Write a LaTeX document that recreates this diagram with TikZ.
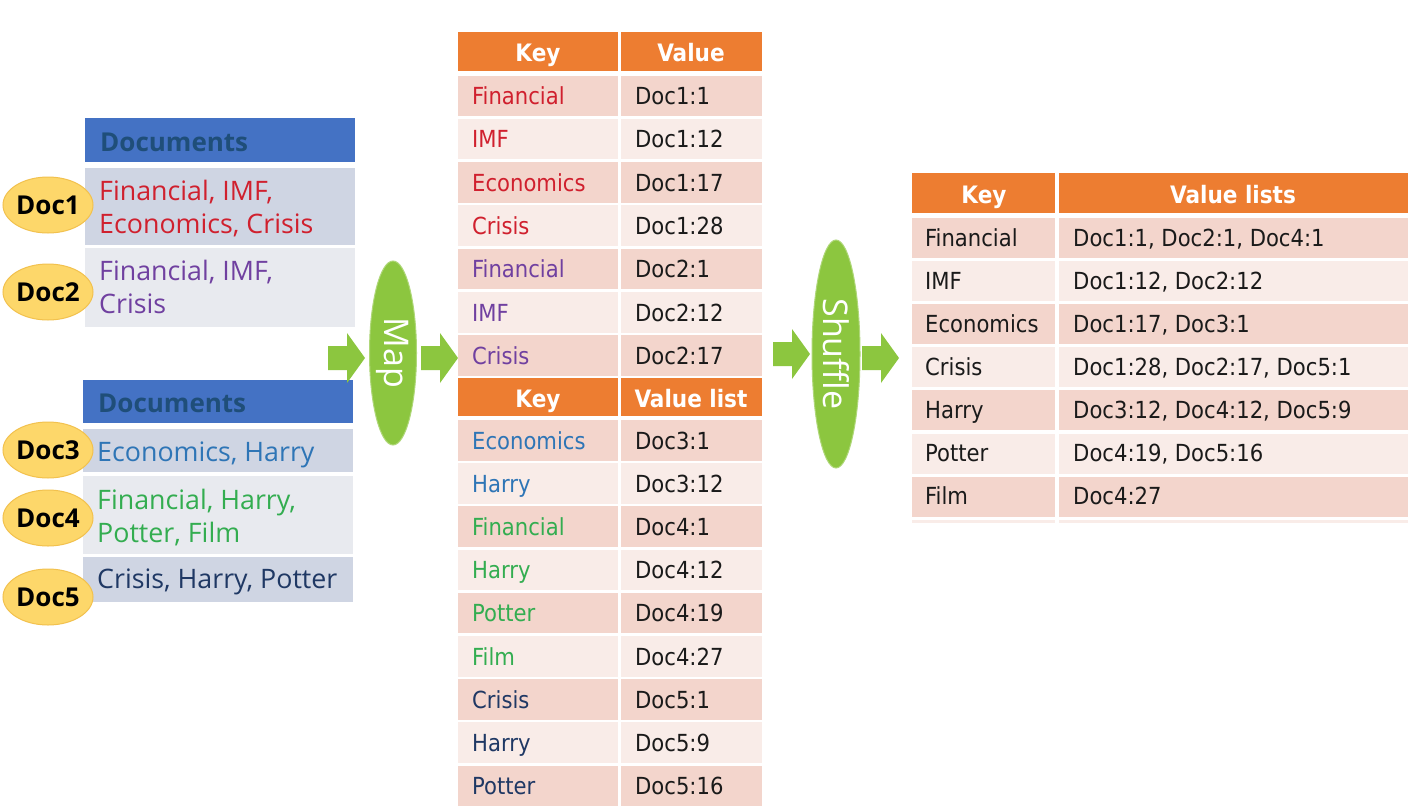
\documentclass[tikz,border=0pt]{standalone}
\usepackage{fontspec}
\usetikzlibrary{shapes.geometric}
\IfFontExistsTF{DejaVu Sans Condensed}{\newfontfamily\tabfont{DejaVu Sans Condensed}}{\newfontfamily\tabfont[FakeStretch=0.88]{DejaVu Sans}}
\newfontfamily\docfont{Open Sans}
\definecolor{orangehd}{HTML}{ED7D31}
\definecolor{rowdark}{HTML}{F3D5CC}
\definecolor{rowlight}{HTML}{F9ECE8}
\definecolor{bluehd}{HTML}{4472C4}
\definecolor{bluetxt}{HTML}{1F4E79}
\definecolor{docdark}{HTML}{CFD5E3}
\definecolor{doclight}{HTML}{E8EAEF}
\definecolor{kred}{HTML}{D0202E}
\definecolor{kpurple}{HTML}{7040A0}
\definecolor{kblue}{HTML}{2E75B6}
\definecolor{kgreen}{HTML}{33AD50}
\definecolor{knavy}{HTML}{1F3864}
\definecolor{valtxt}{HTML}{1A1A1A}
\definecolor{gold}{HTML}{FDD76A}
\definecolor{goldline}{HTML}{F2C14E}
\definecolor{grn}{HTML}{8CC63F}
\newcommand\greenarrow[1]{\fill[grn] (#1) ++(0,-12) -- ++(19,0) -- ++(0,-13) -- ++(18,25) -- ++(-18,25) -- ++(0,-13) -- ++(-19,0) -- cycle;}
\begin{document}
\begin{tikzpicture}[x=1pt,y=-1pt,
  tabtxt/.style={anchor=base west, inner sep=0, font=\tabfont\fontsize{23.5}{27}\selectfont},
  hdtxt/.style={anchor=base, inner sep=0, text=white, font=\tabfont\bfseries\fontsize{24}{27}\selectfont},
  doctxt/.style={anchor=base west, inner sep=0, font=\docfont\fontsize{26.8}{33}\selectfont},
  dochead/.style={anchor=base west, inner sep=0, text=bluetxt, font=\docfont\bfseries\fontsize{26}{28}\selectfont},
  doclabel/.style={ellipse, fill=gold, draw=goldline, line width=1pt, minimum width=90, minimum height=56, inner sep=0, font=\docfont\bfseries\fontsize{26}{30}\selectfont},
  procnode/.style={ellipse, fill=grn, draw=grn!70!white, line width=1pt, inner sep=0, text=white, rotate=-90, font=\docfont\fontsize{34}{36}\selectfont}
]
\useasboundingbox (0,0) rectangle (1420,808);
\fill[white] (0,0) rectangle (1420,808);

% ---------- Documents block 1
\fill[bluehd] (85,118) rectangle (355,162);
\node[dochead] (dh1) at (100,151) {Documents};
\fill[docdark] (85,168) rectangle (355,245);
\fill[doclight] (85,248) rectangle (355,327);
\node[doctxt, text=kred] (t1a) at (99,200) {Financial, IMF,};
\node[doctxt, text=kred] (t1b) at (99,233) {Economics, Crisis};
\node[doctxt, text=kpurple] (t2a) at (99,280) {Financial, IMF,};
\node[doctxt, text=kpurple] (t2b) at (99,313) {Crisis};

% ---------- Documents block 2
\fill[bluehd] (83,380) rectangle (353,423);
\node[dochead] (dh2) at (98,412) {Documents};
\fill[docdark] (83,429) rectangle (353,472);
\fill[doclight] (83,476) rectangle (353,554);
\fill[docdark] (83,557) rectangle (353,602);
\node[doctxt, text=kblue] (t3a) at (97,461) {Economics, Harry};
\node[doctxt, text=kgreen] (t4a) at (97,509) {Financial, Harry,};
\node[doctxt, text=kgreen] (t4b) at (97,542) {Potter, Film};
\node[doctxt, text=knavy] (t5a) at (97,588) {Crisis, Harry, Potter};

% ---------- Doc labels
\node[doclabel] (doc1) at (48,205) {Doc1};
\node[doclabel] (doc2) at (48,292) {Doc2};
\node[doclabel] (doc3) at (48,450) {Doc3};
\node[doclabel] (doc4) at (48,518) {Doc4};
\node[doclabel] (doc5) at (48,597) {Doc5};

% ---------- Map / Shuffle
\coordinate (ar1) at (328,358);
\coordinate (ar2) at (421,358);
\coordinate (ar3) at (773,354);
\coordinate (ar4) at (862,358);
\greenarrow{ar1}
\node[procnode, minimum width=184, minimum height=47] (map) at (393,353) {Map};
\greenarrow{ar2}
\greenarrow{ar3}
\node[procnode, minimum width=228, minimum height=48] (shuffle) at (836,354) {Shuffle};
\greenarrow{ar4}

% ---------- Middle table, part 1
\fill[orangehd] (458,32) rectangle (618,71);
\fill[orangehd] (621,32) rectangle (762,71);
\node[hdtxt] (mh1k) at (538,62) {Key};
\node[hdtxt] (mh1v) at (691,62) {Value};
\foreach \k/\v/\c [count=\i from 0] in {Financial/Doc1:1/kred, IMF/Doc1:12/kred, Economics/Doc1:17/kred, Crisis/Doc1:28/kred, Financial/Doc2:1/kpurple, IMF/Doc2:12/kpurple, Crisis/Doc2:17/kpurple}{
  \pgfmathsetmacro\rtop{75.5+\i*43.3}
  \ifodd\i \def\rc{rowlight}\else\def\rc{rowdark}\fi
  \fill[\rc] (458,\rtop) rectangle (618,\rtop+40.5);
  \fill[\rc] (621,\rtop) rectangle (762,\rtop+40.5);
  \node[tabtxt, text=\c] (ma\i) at (472,\rtop+29) {\k};
  \node[tabtxt, text=valtxt] (mb\i) at (635,\rtop+29) {\v};
}

% ---------- Middle table, part 2
\fill[orangehd] (458,378) rectangle (618,416);
\fill[orangehd] (621,378) rectangle (762,416);
\node[hdtxt] (mh2k) at (538,407) {Key};
\node[hdtxt] (mh2v) at (691,407) {Value list};
\foreach \k/\v/\c [count=\i from 0] in {Economics/Doc3:1/kblue, Harry/Doc3:12/kblue, Financial/Doc4:1/kgreen, Harry/Doc4:12/kgreen, Potter/Doc4:19/kgreen, Film/Doc4:27/kgreen, Crisis/Doc5:1/knavy, Harry/Doc5:9/knavy, Potter/Doc5:16/knavy}{
  \pgfmathsetmacro\rtop{420+\i*43.2}
  \ifodd\i \def\rc{rowlight}\else\def\rc{rowdark}\fi
  \fill[\rc] (458,\rtop) rectangle (618,\rtop+40.5);
  \fill[\rc] (621,\rtop) rectangle (762,\rtop+40.5);
  \node[tabtxt, text=\c] (mc\i) at (472,\rtop+29) {\k};
  \node[tabtxt, text=valtxt] (md\i) at (635,\rtop+29) {\v};
}

% ---------- Right table
\fill[orangehd] (912,173) rectangle (1055,213);
\fill[orangehd] (1059,173) rectangle (1408,213);
\node[hdtxt] (rhk) at (984,203) {Key};
\node[hdtxt] (rhv) at (1233,203) {Value lists};
\foreach \k/\v [count=\i from 0] in {Financial/{Doc1:1, Doc2:1, Doc4:1}, IMF/{Doc1:12, Doc2:12}, Economics/{Doc1:17, Doc3:1}, Crisis/{Doc1:28, Doc2:17, Doc5:1}, Harry/{Doc3:12, Doc4:12, Doc5:9}, Potter/{Doc4:19, Doc5:16}, Film/{Doc4:27}}{
  \pgfmathsetmacro\rtop{218+\i*43.1}
  \ifodd\i \def\rc{rowlight}\else\def\rc{rowdark}\fi
  \fill[\rc] (912,\rtop) rectangle (1055,\rtop+40);
  \fill[\rc] (1059,\rtop) rectangle (1408,\rtop+40);
  \node[tabtxt, text=valtxt] (ra\i) at (925,\rtop+28) {\k};
  \node[tabtxt, text=valtxt] (rb\i) at (1073,\rtop+28) {\v};
}
\fill[rowlight] (912,520) rectangle (1055,523);
\fill[rowlight] (1059,520) rectangle (1408,523);
\end{tikzpicture}
\end{document}
